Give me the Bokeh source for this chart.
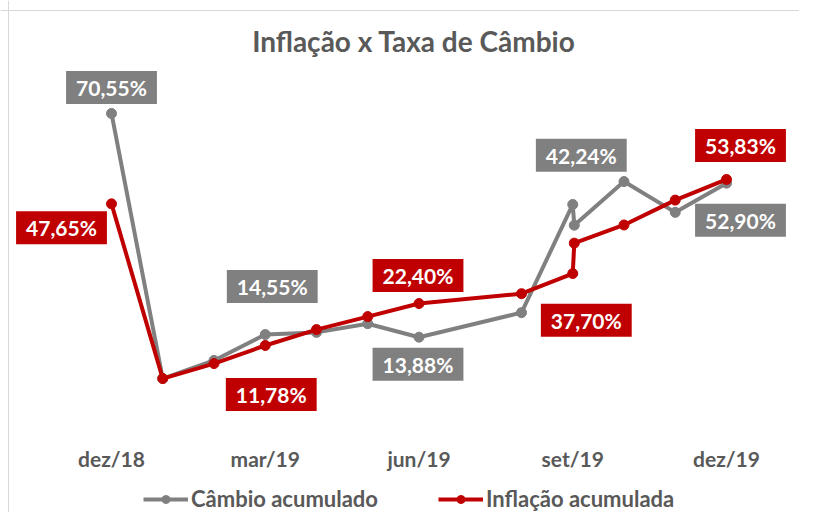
from bokeh.plotting import figure
from bokeh.models import Label, Legend, LegendItem, FixedTicker, Range1d, Span
from bokeh.embed import file_html
from bokeh.resources import INLINE

# ---- data ----
months = [0, 1, 2, 3, 4, 5, 6, 8, 9, 9.03, 10, 11, 12]
cambio = [70.55, 3.4, 8.0, 14.55, 15.1, 17.3, 13.88, 20.1, 47.5, 42.24, 53.3, 45.5, 52.90]
inflacao = [47.65, 3.4, 7.2, 11.78, 15.8, 19.1, 22.40, 24.9, 30.0, 37.70, 42.3, 48.6, 53.83]
tick_pos = [0, 3, 6, 9, 12]
tick_labels = ["dez/18", "mar/19", "jun/19", "set/19", "dez/19"]
title_text = "Inflação x Taxa de Câmbio"
series_names = ["Câmbio acumulado", "Inflação acumulada"]
# labelled points: (series, index)
label_points = [("c", 0), ("i", 0), ("c", 3), ("i", 3), ("i", 6), ("c", 6),
                ("c", 9), ("i", 9), ("i", 12), ("c", 12)]

# ---- style / layout ----
label_offsets = [(0, 26), (-50, -24), (7, 48), (6, -49), (-1, 28), (-1, -27),
                 (7, 70), (12, -77), (14, 34), (14, -37)]
GRAY = "#808080"
RED = "#C00000"
TXT = "#595959"
FONT = "Lato"

W, H = 799, 512
x0, x1 = -2.1659, 13.4244
y0, y1 = -30.52, 99.16

p = figure(width=W, height=H, x_range=Range1d(x0, x1), y_range=Range1d(y0, y1),
           output_backend="svg", toolbar_location=None, y_axis_location=None,
           min_border_left=0, min_border_right=0, min_border_top=0,
           min_border_bottom=0)
p.grid.visible = False
p.outline_line_color = None

ax = p.xaxis[0]
ax.fixed_location = -10.76
ax.ticker = FixedTicker(ticks=tick_pos)
ax.major_label_overrides = {t: l for t, l in zip(tick_pos, tick_labels)}
ax.axis_line_color = None
ax.major_tick_line_color = None
ax.minor_tick_line_color = None
ax.major_tick_out = 0
ax.major_tick_in = 0
ax.major_label_standoff = 12
ax.major_label_text_font = FONT
ax.major_label_text_font_style = "bold"
ax.major_label_text_font_size = "21px"
ax.major_label_text_color = TXT

# chart area border (top and left edges visible in the reference)
p.add_layout(Span(location=-2.0098, dimension="height", line_color="#d9d9d9", line_width=1))
p.add_layout(Span(location=96.63, dimension="width", line_color="#d9d9d9", line_width=1))

gl = p.line(months, cambio, line_color=GRAY, line_width=4)
gs = p.scatter(months, cambio, size=10, fill_color=GRAY, line_color=GRAY)
rl = p.line(months, inflacao, line_color=RED, line_width=4)
rs = p.scatter(months, inflacao, size=10, fill_color=RED, line_color=RED)

series = {"c": (cambio, GRAY), "i": (inflacao, RED)}
for (s, idx), (dx, dy) in zip(label_points, label_offsets):
    vals, col = series[s]
    v = vals[idx]
    txt = f"{v:.2f}".replace(".", ",") + "%"
    p.add_layout(Label(x=months[idx], y=v, text=txt, x_offset=dx, y_offset=dy,
                       text_align="center", text_baseline="middle",
                       text_font=FONT, text_font_style="bold", text_font_size="21px",
                       text_color="white", background_fill_color=col,
                       padding=(10, 4)))

p.add_layout(Label(x=5.9, y=89.0, text=title_text, text_align="center",
                   text_baseline="middle", text_font=FONT, text_font_style="bold",
                   text_font_size="28px", text_color=TXT))

legend = Legend(items=[LegendItem(label=series_names[0], renderers=[gl, gs]),
                       LegendItem(label=series_names[1], renderers=[rl, rs])],
                orientation="horizontal", location=(143, 0))
legend.border_line_color = None
legend.background_fill_alpha = 0
legend.label_text_font = FONT
legend.label_text_font_style = "bold"
legend.label_text_font_size = "22px"
legend.label_text_color = TXT
legend.glyph_width = 45
legend.label_standoff = 3
legend.spacing = 60
legend.padding = 0
legend.margin = 0
p.add_layout(legend)

open("out.html", "w").write(file_html(p, INLINE))
